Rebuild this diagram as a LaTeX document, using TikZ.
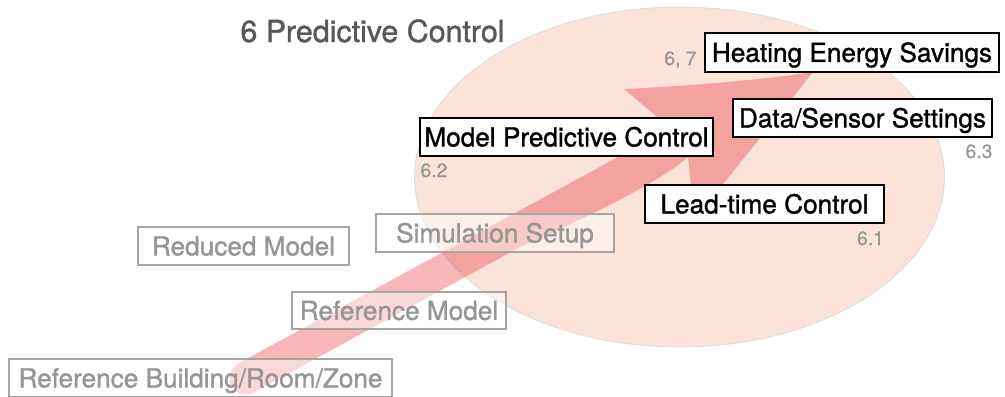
\documentclass[tikz,border=0pt]{standalone}
\usepackage{fontspec}
\setmainfont[FakeBold=1.2]{TeX Gyre Heros}
\newfontfamily\numfont[FakeBold=0.5]{TeX Gyre Heros}
\definecolor{ellfill}{RGB}{251,227,218}
\definecolor{ellline}{RGB}{220,220,220}
\definecolor{arrowred}{RGB}{228,20,25}
\definecolor{graytext}{RGB}{150,150,150}
\definecolor{grayline}{RGB}{165,165,165}
\definecolor{titlegray}{RGB}{88,88,88}
\definecolor{numgray}{RGB}{150,150,150}
\tikzset{
  boxfont/.style={font=\fontsize{14.9}{17}\selectfont},
  graybox/.style={boxfont, draw=grayline, line width=0.8pt, fill=white, fill opacity=0.45,
    text opacity=1, text=graytext, inner sep=0pt, text height=10.7pt, text depth=0pt},
  blackbox/.style={boxfont, draw=black, line width=0.8pt, fill=white,
    text=black, inner sep=0pt, text height=10.7pt, text depth=0pt},
  numlabel/.style={font=\numfont\fontsize{11}{13}\selectfont, text=numgray, anchor=base, inner sep=0pt},
  bigarrow/.style={fill=arrowred, fill opacity=0.31},
}
\begin{document}
\begin{tikzpicture}[x=0.02cm, y=-0.02cm]
\useasboundingbox (0,0) rectangle (1005,396);
% zone ellipse
\draw[ellline, line width=0.5pt, fill=ellfill] (679.5,177) ellipse [x radius=5.3cm, y radius=3.4cm];
% big arrow
\path[bigarrow] (238.1,363.5) -- (666,131) -- (656,116) -- (624,89)
  .. controls (690,86) and (760,80) .. (813,72)
  -- (695,219) -- (691,185) -- (688,157)
  .. controls (665,178) and (600,212) .. (520,247)
  -- (253.9,392.5)
  .. controls (245.9,396.9) and (235.9,393.9) .. (231.5,385.9)
  .. controls (227.1,377.9) and (230.1,367.9) .. (238.1,363.5) -- cycle;
% gray boxes
\node[graybox, minimum width=4.76cm, minimum height=0.76cm] (sim) at (495,233) {Simulation Setup};
\node[graybox, minimum width=4.22cm, minimum height=0.76cm] (red) at (243.5,246) {Reduced Model};
\node[graybox, minimum width=4.28cm, minimum height=0.74cm] (refm) at (399,310.5) {Reference Model};
\node[graybox, minimum width=7.66cm, minimum height=0.76cm] (refb) at (200.5,378) {Reference Building/Room/Zone};
% black boxes
\node[blackbox, minimum width=5.88cm, minimum height=0.78cm] (heat) at (852,52.5) {Heating Energy Savings};
\node[blackbox, minimum width=5.18cm, minimum height=0.76cm] (data) at (862.5,118) {Data/Sensor Settings};
\node[blackbox, minimum width=5.86cm, minimum height=0.76cm] (mpc) at (566.5,137) {Model Predictive Control};
\node[blackbox, minimum width=4.78cm, minimum height=0.76cm] (lead) at (764.5,204) {Lead-time Control};
% section numbers
\node[numlabel] (n67) at (680.5,65) {6, 7};
\node[numlabel] (n62) at (434,177) {6.2};
\node[numlabel] (n63) at (979,158) {6.3};
\node[numlabel] (n61) at (870.5,245) {6.1};
% title
\node[anchor=base, inner sep=0pt, font=\fontsize{17.3}{20}\selectfont, text=titlegray] (title) at (372.5,42) {6 Predictive Control};
\end{tikzpicture}
\end{document}
